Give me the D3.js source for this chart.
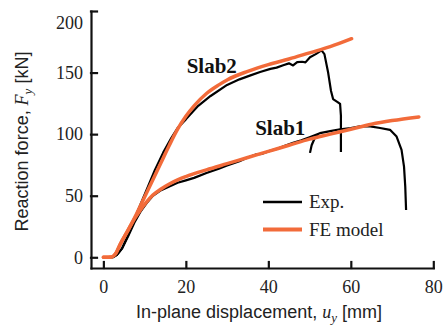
<!DOCTYPE html>
<html>
<head>
<meta charset="utf-8">
<script src="https://cdnjs.cloudflare.com/ajax/libs/d3/7.8.5/d3.min.js"></script>
<style>
  body { margin: 0; background: #fff; }
  .axis path, .axis line { stroke: #111; stroke-width: 2.2; stroke-linecap: square; }
  .axis .tick text { font-family: 'Liberation Serif', serif; font-size: 18px; fill: #222; }
  .title { font-family: 'Liberation Sans', sans-serif; font-size: 18px; fill: #222; }
  .math { font-family: 'Liberation Serif', serif; font-style: italic; }
  .slab { font-family: 'Liberation Serif', serif; font-weight: bold; font-size: 21px; fill: #111; }
  .legend text { font-family: 'Liberation Serif', serif; font-size: 19px; fill: #222; }
  .exp { fill: none; stroke: #000; stroke-width: 2.2; stroke-linejoin: round; }
  .fe { fill: none; stroke: #f26b3a; stroke-width: 3.5; stroke-linecap: round; }
</style>
</head>
<body>
<div id="chart"></div>
<script>

//// data: displacement u_y [mm], reaction force F_y [kN]

var xTicks = [0, 20, 40, 60, 80];
var yTicks = [0, 50, 100, 150, 200];
var legendLabels = ["Exp.", "FE model"];

var slab1Exp = [[0,0],[2.4,0.2],[3.3,2],[4.5,7],[6,17],[7.5,28],[9,37],[10.5,44],[12,50],[14,54.5],
  [16,57.5],[18,60.5],[20,62.5],[22,64.5],[25,68.5],[28,72],[30,74.5],[33,78],[35,81],[37,83.5],
  [38.5,84],[40,86],[42,88],[44,90.5],[46,93],[48,95],[50,97.5],[52.5,100.8],[55,102.5],[57.4,104],
  [60,105],[62.2,106.3],[64.7,106.3],[67.1,105],[69.5,103.5],[71.1,98],[72.3,87.2],[72.9,73.6],
  [73.2,57.4],[73.4,38.4]];

var slab1ExpHook = [[50.1,84.8],[50.5,91],[51.2,96.5],[52,99.5]];

var slab2Exp = [[0,0],[2.4,0.2],[3.3,2],[4.5,7],[6,18],[7.5,31],[9,43],[10.5,55],[12.5,71],[14.5,85],
  [16.5,97],[18,105],[20,112],[23,123],[26,131],[30,140],[33,144.5],[35.5,147.5],[38,150.5],[40.5,153],
  [42,154],[43.6,156],[45,157.5],[46,155.8],[47,158.5],[48.2,158.8],[49,158.3],[50.1,162.5],
  [51.5,165],[52.9,168],[53.6,165],[54.5,150],[55.2,135],[55.7,128.5],[56.8,126],[57.4,124.5],
  [57.6,115],[57.6,100],[57.6,85.5]];

var slab1FE = [[0,0],[2,0.3],[3,3],[4,10],[6,22],[7.5,31],[9,38.5],[10.5,45],[12,50.5],[14,55.5],
  [16,59.5],[18,62.8],[20,65.5],[25,71],[30,76],[35,81],[40,86],[45,91],[50,96],[55,100],
  [60,104],[65,108],[70,111],[76.5,114]];

var slab2FE = [[0,0],[2,0.3],[3,3],[4,10],[6,22],[8,35],[10,49],[12,63],[14,77],[16,91],[18,104],
  [20,114.5],[22,123],[25,133],[28,140],[30,144],[35,151],[40,156.5],[45,161],[50,166],[55,171],
  [60.2,177.5]];

//// svg

var width = 444, height = 325;

var svg = d3.select("#chart").append("svg")
    .attr("width", width)
    .attr("height", height);

var x = d3.scaleLinear().domain([-3, 80]).range([91, 433.3]);
var y = d3.scaleLinear().domain([-8.7, 200]).range([268, 11]);

//// axes (ticks point inward)

svg.append("g")
    .attr("class", "axis")
    .attr("transform", "translate(0," + y.range()[0] + ")")
    .call(d3.axisBottom(x).tickValues(xTicks).tickSizeInner(-6).tickSizeOuter(0).tickPadding(12.5));

var yAxis = svg.append("g")
    .attr("class", "axis")
    .attr("transform", "translate(" + x.range()[0] + ",0)")
    .call(d3.axisLeft(y).tickValues(yTicks).tickSizeInner(-6).tickSizeOuter(0).tickPadding(8));

// the top label sits below its tick in the original
yAxis.selectAll(".tick text").filter(function(d) { return d === 200; })
    .attr("dy", "0.95em");

//// curves

var line = d3.line()
    .x(function(d) { return x(d[0]); })
    .y(function(d) { return y(d[1]); });

var smooth = d3.line()
    .x(function(d) { return x(d[0]); })
    .y(function(d) { return y(d[1]); })
    .curve(d3.curveMonotoneX);

[slab1Exp, slab1ExpHook, slab2Exp].forEach(function(s) {
  svg.append("path").attr("class", "exp").attr("d", line(s));
});

[slab1FE, slab2FE].forEach(function(s) {
  svg.append("path").attr("class", "fe").attr("d", smooth(s));
});

//// labels

svg.append("text").attr("class", "slab")
    .attr("x", x(20.2)).attr("y", y(150))
    .text("Slab2");

svg.append("text").attr("class", "slab")
    .attr("x", x(36.8)).attr("y", y(99))
    .text("Slab1");

//// legend

var legend = svg.append("g").attr("class", "legend")
    .attr("transform", "translate(263,202)");

legend.selectAll("line")
    .data(legendLabels)
  .enter().append("line")
    .attr("x1", 0).attr("x2", 39)
    .attr("y1", function(d, i) { return i * 27.5; })
    .attr("y2", function(d, i) { return i * 27.5; })
    .attr("class", function(d, i) { return i ? "fe" : "exp"; })
    .style("stroke-width", function(d, i) { return i ? 4 : 2.5; })
    .style("stroke-linecap", "butt");

legend.selectAll("text")
    .data(legendLabels)
  .enter().append("text")
    .attr("x", 46)
    .attr("y", function(d, i) { return i * 27.5 + 6; })
    .text(function(d) { return d; });

//// axis titles

var xt = svg.append("text").attr("class", "title")
    .attr("x", 259).attr("y", 318)
    .style("text-anchor", "middle");
xt.append("tspan").text("In-plane displacement, ");
xt.append("tspan").attr("class", "math").text("u");
xt.append("tspan").attr("class", "math").attr("dy", 4).style("font-size", "13px").text("y");
xt.append("tspan").attr("dy", -4).text(" [mm]");

var yt = svg.append("text").attr("class", "title")
    .attr("transform", "translate(28,141.5) rotate(-90)")
    .style("text-anchor", "middle");
yt.append("tspan").text("Reaction force, ");
yt.append("tspan").attr("class", "math").text("F");
yt.append("tspan").attr("class", "math").attr("dy", 4).style("font-size", "13px").text("y");
yt.append("tspan").attr("dy", -4).text(" [kN]");

</script>
</body>
</html>
